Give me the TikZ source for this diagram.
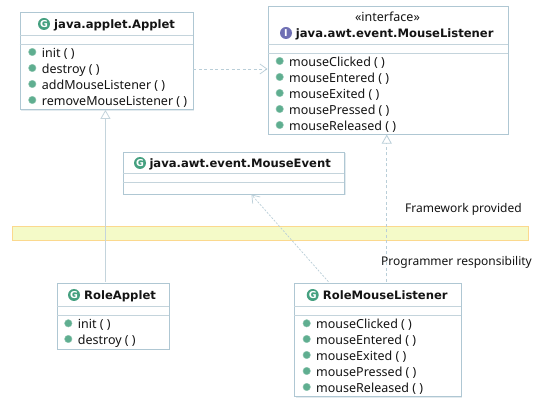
\documentclass[tikz,border=0pt]{standalone}
\usepackage{fontspec}
\setmainfont{Noto Sans}
\newfontfamily\heavyfont{DejaVu Sans Bold}
\usetikzlibrary{shadows,arrows.meta}
\definecolor{edgeblue}{HTML}{AFC7D3}
\definecolor{linkblue}{HTML}{B9CED8}
\definecolor{rulegray}{HTML}{C4D4DC}
\definecolor{iconG}{HTML}{45A080}
\definecolor{dotG}{HTML}{5FAE90}
\definecolor{iconI}{HTML}{7070B4}
\definecolor{inktext}{HTML}{141414}
\definecolor{bandfill}{HTML}{F4FAC8}
\definecolor{bandedge}{HTML}{FBD98E}
\tikzset{
  umlbox/.style={draw=edgeblue,line width=0.9pt,fill=white,inner sep=0pt,
    drop shadow={shadow xshift=1.2pt,shadow yshift=-1.2pt,fill=edgeblue,opacity=.35}},
  divider/.style={draw=rulegray,line width=0.9pt},
  bandbox/.style={draw=bandedge,line width=0.8pt,fill=bandfill,inner sep=0pt},
  titletext/.style={font=\heavyfont\fontsize{11.6}{13}\selectfont,text=inktext,anchor=base west,inner sep=0pt},
  methodtext/.style={font=\fontsize{12.5}{14}\selectfont,text=inktext,anchor=base west,inner sep=0pt},
  labeltext/.style={font=\fontsize{12}{14}\selectfont,text=inktext,anchor=base west,inner sep=0pt},
  methoddot/.style={circle,fill=dotG,draw=dotG!70!white,line width=.4pt,minimum size=7.5pt,inner sep=0pt},
  classicon/.style={circle,fill=iconG,minimum size=12pt,inner sep=0pt,text=white,font=\heavyfont\fontsize{9.5}{9.5}\selectfont},
  ifaceicon/.style={circle,fill=iconI,minimum size=12pt,inner sep=0pt,text=white,font=\heavyfont\fontsize{9.5}{9.5}\selectfont},
  implline/.style={draw=linkblue,line width=0.8pt,dash pattern=on 3pt off 2.5pt},
  fineline/.style={draw=linkblue,line width=0.7pt,dash pattern=on 2pt off 1.5pt},
  inheritline/.style={draw=rulegray,line width=1.2pt},
  hollowtip/.style={-{Triangle[open,fill=white,length=9pt,width=10pt,line width=0.8pt]}},
  opentip/.style={-{Straight Barb[length=7pt,width=10pt,line width=0.7pt]}},
}
% name, x1, y1, x2, y2, divider y a, divider y b
\newcommand{\umlrect}[7]{%
  \node[umlbox,minimum width=#4pt-#2pt,minimum height=#5pt-#3pt,anchor=north west] (#1) at (#2,#3) {};
  \draw[divider] (#2,#6) -- (#4,#6);
  \draw[divider] (#2,#7) -- (#4,#7);
}
% name, dot x, text x, y, text
\newcommand{\umlmethod}[5]{%
  \node[methoddot] (#1d) at (#2,#4-1) {};
  \node[methodtext] (#1t) at (#3,#4+4.5) {#5};
}
\begin{document}
\begin{tikzpicture}[x=1pt,y=-1pt]
\useasboundingbox (0,0) rectangle (539,398);
\fill[white] (0,0) rectangle (539,398);
% band
\node[bandbox,minimum width=515.4pt,minimum height=14.3pt,anchor=north west] (band) at (12.3,226) {};
% Applet
\umlrect{applet}{19.5}{12.5}{192.5}{109}{35}{44.5}
\node[classicon] (appleti) at (44,24) {G};
\node[titletext] (applett) at (54,28.5) {java.applet.Applet};
\umlmethod{aa}{32.3}{41.7}{53}{init ( )}
\umlmethod{ab}{32.3}{41.7}{69}{destroy ( )}
\umlmethod{ac}{32.3}{41.7}{85}{addMouseListener ( )}
\umlmethod{ad}{32.3}{41.7}{101}{removeMouseListener ( )}
% MouseListener
\umlrect{listener}{267.5}{6}{507.5}{133.7}{44}{53.5}
\node[methodtext,anchor=base] (stereo) at (387.5,21.5) {«interface»};
\node[ifaceicon] (listeneri) at (286,33) {I};
\node[titletext] (listenert) at (295.7,37.5) {java.awt.event.MouseListener};
\umlmethod{la}{279.7}{289}{62}{mouseClicked ( )}
\umlmethod{lb}{279.7}{289}{78}{mouseEntered ( )}
\umlmethod{lc}{279.7}{289}{94}{mouseExited ( )}
\umlmethod{ld}{279.7}{289}{110}{mousePressed ( )}
\umlmethod{le}{279.7}{289}{126}{mouseReleased ( )}
% MouseEvent
\umlrect{event}{122.7}{151.7}{344.3}{193.7}{173.3}{182.7}
\node[classicon] (eventi) at (140,163) {G};
\node[titletext] (eventt) at (149.3,167.5) {java.awt.event.MouseEvent};
% RoleApplet
\umlrect{role}{56.7}{283.3}{168.7}{348.7}{306.3}{315.7}
\node[classicon] (rolei) at (74,295) {G};
\node[titletext] (rolet) at (84,299.5) {RoleApplet};
\umlmethod{ra}{68.3}{77.7}{324.3}{init ( )}
\umlmethod{rb}{68.3}{77.7}{340}{destroy ( )}
% RoleMouseListener
\umlrect{rml}{294.3}{283.3}{460.7}{396}{306.3}{315.7}
\node[classicon] (rmli) at (312.7,295) {G};
\node[titletext] (rmlt) at (322.7,299.5) {RoleMouseListener};
\umlmethod{ma}{306.7}{316}{324.3}{mouseClicked ( )}
\umlmethod{mb}{306.7}{316}{340}{mouseEntered ( )}
\umlmethod{mc}{306.7}{316}{356}{mouseExited ( )}
\umlmethod{md}{306.7}{316}{372}{mousePressed ( )}
\umlmethod{me}{306.7}{316}{388}{mouseReleased ( )}
% connectors
\draw[implline,opentip] ([yshift=-1pt]applet.east |- abd) -- ([yshift=-1pt]listener.west |- abd);
\draw[inheritline,hollowtip] ([xshift=-7.7pt,yshift=1.5pt]role.north) -- ([xshift=-1pt]applet.south);
\draw[implline,hollowtip] ([xshift=8.8pt,yshift=1.5pt]rml.north) -- ([xshift=-1.2pt]listener.south);
\draw[fineline,opentip] ([xshift=-49.5pt,yshift=1.5pt]rml.north) -- ([xshift=17.5pt]event.south);
% labels
\node[labeltext] (fw) at (405,212.5) {Framework provided};
\node[labeltext] (pr) at (381,266) {Programmer responsibility};
\end{tikzpicture}
\end{document}
